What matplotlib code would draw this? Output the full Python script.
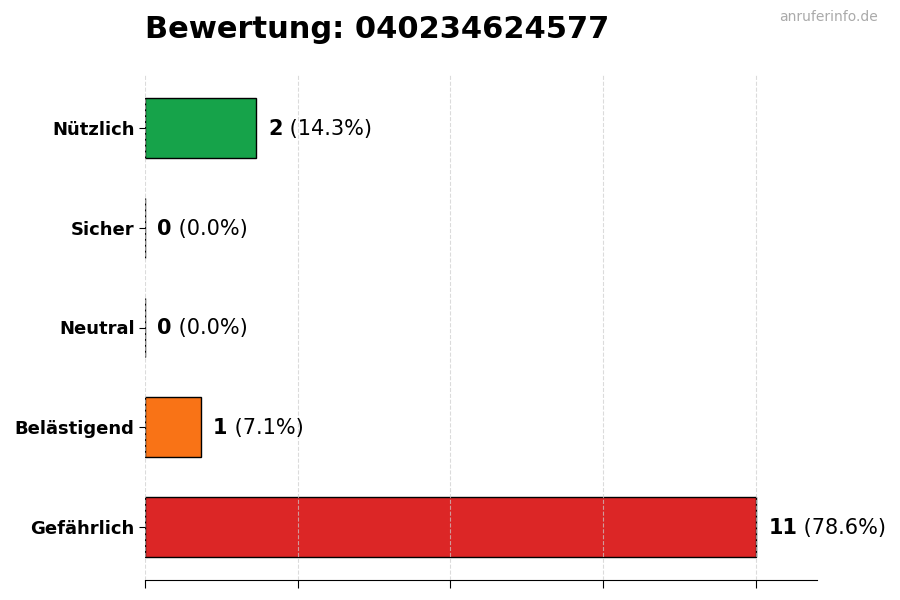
import matplotlib
matplotlib.use("Agg")
import matplotlib.pyplot as plt
import numpy as np

categories = ["Nützlich", "Sicher", "Neutral", "Belästigend", "Gefährlich"]
counts = [2, 0, 0, 1, 11]
percents = [14.3, 0.0, 0.0, 7.1, 78.6]
colors = ["#16a34a", "#9ca3af", "#6b7280", "#f97316", "#dc2626"]
title = "Bewertung: 040234624577"
watermark = "anruferinfo.de"

fig = plt.figure(figsize=(9, 6), dpi=100)
ax = fig.add_axes([145/900, 20/600, 672/900, 505/600])

y = np.arange(len(categories))[::-1]
ax.barh(y, counts, height=0.6, color=colors, edgecolor="black", linewidth=1, zorder=2)
ax.set_yticks(y)
ax.set_yticklabels(categories, fontsize=13, fontweight="bold")
mx = max(counts)
ax.set_xlim(0, mx * 1.1)
ax.set_xticks(np.linspace(0, mx, 5))
ax.set_xticklabels([])
ax.set_axisbelow(False)
ax.grid(axis="x", linestyle="--", color="#cccccc", alpha=0.7, linewidth=0.8, zorder=3)
for s in ["top", "right", "left"]:
    ax.spines[s].set_visible(False)
ax.tick_params(axis="y", length=4)
ax.tick_params(axis="x", length=6)

fig.text(145/900, 1 - 30/600, title, fontsize=22, fontweight="bold", va="center", ha="left")
fig.text(878/900, 1 - 17/600, watermark, fontsize=10, color="#aaaaaa", va="center", ha="right")

fig.canvas.draw()
renderer = fig.canvas.get_renderer()
for yi, c, p in zip(y, counts, percents):
    t1 = ax.annotate(f"{c}", xy=(c, yi), xytext=(9, -0.7), textcoords="offset points",
                     fontsize=15, fontweight="bold", va="center", ha="left", zorder=5)
    bb = t1.get_window_extent(renderer)
    ax.annotate(f" ({p:.1f}%)", xy=(c, yi), xytext=(9 + bb.width * 72 / fig.dpi, -0.7),
                textcoords="offset points", fontsize=15, va="center", ha="left", zorder=5)

fig.savefig("out.png", dpi=100)
